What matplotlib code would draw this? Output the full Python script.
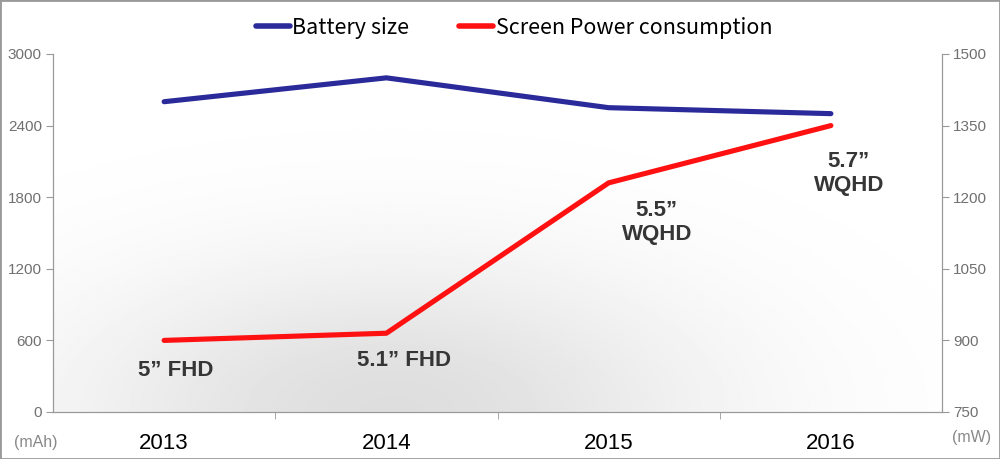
import numpy as np
import matplotlib.pyplot as plt
from matplotlib.patches import Rectangle
from matplotlib.lines import Line2D

# Data
years = ["2013", "2014", "2015", "2016"]
battery_mah = [2600, 2800, 2550, 2500]
screen_mw = [900, 915, 1230, 1350]
screen_labels = ["5\u201d FHD", "5.1\u201d FHD", "5.5\u201d\nWQHD", "5.7\u201d\nWQHD"]

blue = "#2a2a9a"
red = "#ff1111"
grey = "#999999"

plt.rcParams['font.family'] = ['Liberation Sans', 'DejaVu Sans']

fig = plt.figure(figsize=(10, 4.59), dpi=100)
ax = fig.add_axes([0.053, 0.1024, 0.889, 0.78])
ax2 = ax.twinx()

x = np.arange(len(years))

# soft background shading near the bottom
gx, gy = np.meshgrid(np.linspace(0, 1, 400), np.linspace(0, 1, 200))
shade = 1 - 0.13 * np.exp(-(((gx - 0.38) / 0.36) ** 2 + (gy / 0.42) ** 2))
ax.imshow(shade, cmap="gray", vmin=0, vmax=1, extent=[0, 1, 0, 1],
          transform=ax.transAxes, origin="lower", aspect="auto", zorder=0)

ax.plot(x, battery_mah, color=blue, lw=3.7, solid_capstyle="round", zorder=3)
ax2.plot(x, screen_mw, color=red, lw=3.7, solid_capstyle="round", zorder=3)

ax.set_xlim(-0.5, 3.5)
ax.set_ylim(0, 3000)
ax2.set_ylim(750, 1500)
ax.set_yticks(np.arange(0, 3001, 600))
ax2.set_yticks(np.arange(750, 1501, 150))
ax.set_xticks(x)
ax.set_xticklabels(years, fontsize=16, color="black")
ax.set_xticks([0.5, 1.5, 2.5], minor=True)
ax.tick_params(axis="x", which="major", length=0, pad=15)
ax.tick_params(axis="x", which="minor", length=5, color=grey)
ax.tick_params(axis="y", length=5, color=grey, labelcolor="#707070", labelsize=11, pad=3)
ax2.tick_params(axis="y", length=5, color=grey, labelcolor="#707070", labelsize=11, pad=3)

for a in (ax, ax2):
    a.spines["top"].set_visible(False)
    for s in ("left", "right", "bottom"):
        a.spines[s].set_color(grey)
ax2.patch.set_visible(False)

# screen labels (offsets in points from each data point)
offsets = [(8.6, -21.6), (13, -19.4), (34.6, -28.4), (13, -34.6)]
for i, (lab, (dx, dy)) in enumerate(zip(screen_labels, offsets)):
    ax2.annotate(lab, (x[i], screen_mw[i]), xytext=(dx, dy), textcoords="offset points",
                 ha="center", va="center", fontsize=16, fontweight="bold",
                 color="#363636", linespacing=1.2, zorder=4)

fig.text(0.036, 0.035, "(mAh)", color="#888888", fontsize=11.5, ha="center", va="center")
fig.text(0.972, 0.046, "(mW)", color="#888888", fontsize=11.5, ha="center", va="center")

handles = [Line2D([], [], color=blue, lw=4, solid_capstyle="round"),
           Line2D([], [], color=red, lw=4, solid_capstyle="round")]
fig.legend(handles, ["Battery size", "Screen Power consumption"], loc="center",
           bbox_to_anchor=(0.514, 0.94), ncol=2, frameon=False,
           prop={"family": ["Noto Sans CJK JP", "DejaVu Sans"], "size": 15.5},
           handlelength=1.6, handletextpad=0.1, columnspacing=2.3)

fig.patches.append(Rectangle((0, 0), 1, 1, transform=fig.transFigure, fill=False,
                             edgecolor="#999999", lw=2))

fig.savefig("out.png", dpi=100)
